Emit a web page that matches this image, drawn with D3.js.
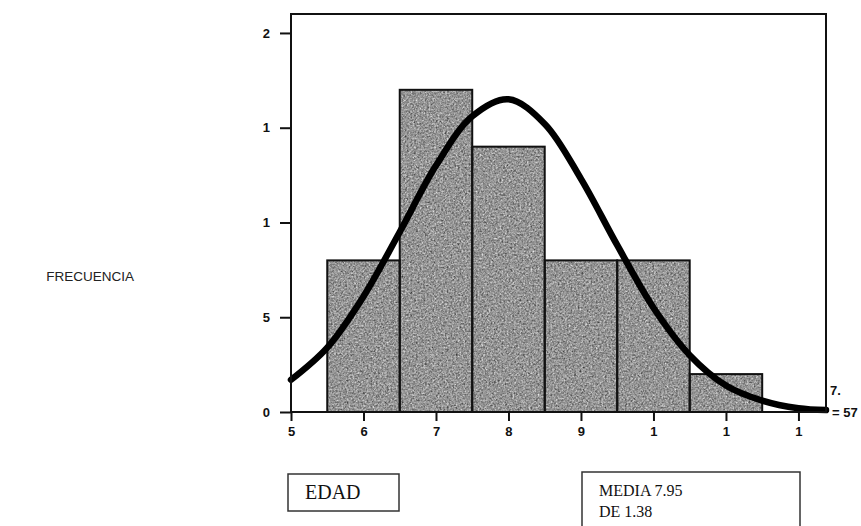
<!DOCTYPE html>
<html>
<head>
<meta charset="utf-8">
<script src="https://cdn.jsdelivr.net/npm/d3@7"></script>
<style>
  body { margin: 0; background: #fff; }
  svg { display: block; }
</style>
</head>
<body>
<svg id="chart" width="861" height="526"></svg>
<script>
// Histogram of EDAD with fitted normal curve
const binCenters = [6, 7, 8, 9, 10, 11];
const counts = [8, 17, 14, 8, 8, 2];

const yTicks = [0, 5, 10, 15, 20];
const yTickLabels = ['0', '5', '1', '1', '2'];
const xTicks = [5, 6, 7, 8, 9, 10, 11, 12];
const xTickLabels = ['5', '6', '7', '8', '9', '1', '1', '1'];

// normal curve
const curveX = [5, 5.5, 6, 6.5, 7, 7.5, 8, 8.5, 9, 9.5, 10, 10.5, 11, 11.5, 12, 12.38];
const curveY = [1.7, 3.4, 6.1, 9.5, 13.0, 15.6, 16.5, 15.2, 12.3, 8.8, 5.5, 3.0, 1.4, 0.6, 0.2, 0.1];

const statsLines = ['MEDIA 7.95', 'DE 1.38'];
const sideLabels = ['7.', '= 57'];

const svg = d3.select('#chart');

const x = d3.scaleLinear().domain([5, 12.38]).range([291, 826]);
const y = d3.scaleLinear().domain([0, 21]).range([412, 14]);

// grainy gray fill like the scanned original
const defs = svg.append('defs');
const grain = defs.append('filter').attr('id', 'grain')
    .attr('x', 0).attr('y', 0).attr('width', 1).attr('height', 1)
    .attr('color-interpolation-filters', 'sRGB');
grain.append('feTurbulence').attr('type', 'fractalNoise')
    .attr('baseFrequency', 0.55).attr('numOctaves', 3).attr('seed', 7).attr('result', 'n');
grain.append('feColorMatrix').attr('in', 'n').attr('type', 'matrix')
    .attr('values', '0.42 0.42 0.42 0 -0.05  0.42 0.42 0.42 0 -0.05  0.42 0.42 0.42 0 -0.05  0 0 0 0 1')
    .attr('result', 'g');
grain.append('feComposite').attr('in', 'g').attr('in2', 'SourceGraphic').attr('operator', 'in');

// bars
const bars = svg.append('g');
bars.selectAll('rect.fill')
    .data(binCenters)
    .join('rect')
    .attr('class', 'fill')
    .attr('x', (d) => x(d - 0.5))
    .attr('y', (d, i) => y(counts[i]))
    .attr('width', (d) => x(d + 0.5) - x(d - 0.5))
    .attr('height', (d, i) => y(0) - y(counts[i]))
    .attr('fill', '#969696')
    .attr('filter', 'url(#grain)');

bars.selectAll('rect.edge')
    .data(binCenters)
    .join('rect')
    .attr('class', 'edge')
    .attr('x', (d) => x(d - 0.5))
    .attr('y', (d, i) => y(counts[i]))
    .attr('width', (d) => x(d + 0.5) - x(d - 0.5))
    .attr('height', (d, i) => y(0) - y(counts[i]))
    .attr('fill', 'none')
    .attr('stroke', '#111')
    .attr('stroke-width', 2);

// normal curve
const line = d3.line()
    .x((d, i) => x(d))
    .y((d, i) => y(curveY[i]))
    .curve(d3.curveCatmullRom);

svg.append('path')
    .datum(curveX)
    .attr('d', line)
    .attr('fill', 'none')
    .attr('stroke', '#000')
    .attr('stroke-width', 6.5)
    .attr('stroke-linecap', 'round');

// frame
svg.append('rect')
    .attr('x', x(5)).attr('y', y(21))
    .attr('width', x(12.38) - x(5)).attr('height', y(0) - y(21))
    .attr('fill', 'none').attr('stroke', '#111').attr('stroke-width', 2);

// axes
const yAxis = d3.axisLeft(y)
    .tickValues(yTicks)
    .tickSize(11)
    .tickPadding(10)
    .tickFormat((d, i) => yTickLabels[i]);

const xAxis = d3.axisBottom(x)
    .tickValues(xTicks)
    .tickSize(9)
    .tickPadding(6)
    .tickFormat((d, i) => xTickLabels[i]);

const axisStyle = (g) => {
    g.select('.domain').remove();
    g.selectAll('line').attr('stroke', '#111').attr('stroke-width', 2);
    g.selectAll('text')
        .attr('fill', '#111')
        .style('font-family', 'Arial, "Liberation Sans", sans-serif')
        .style('font-size', '13px')
        .style('font-weight', 'bold');
};

svg.append('g').attr('transform', `translate(${x(5)},0)`).call(yAxis).call(axisStyle);
svg.append('g').attr('transform', `translate(0,${y(0)})`).call(xAxis).call(axisStyle);

// side labels (clipped in the original)
svg.selectAll('text.side')
    .data(sideLabels)
    .join('text')
    .attr('class', 'side')
    .attr('x', (d, i) => i === 0 ? 830 : 832)
    .attr('y', (d, i) => i === 0 ? 395 : 417)
    .attr('fill', '#111')
    .style('font-family', 'Arial, "Liberation Sans", sans-serif')
    .style('font-size', '13px')
    .style('font-weight', 'bold')
    .text((d) => d);

// y title
svg.append('text')
    .attr('x', 134).attr('y', 281)
    .attr('text-anchor', 'end')
    .attr('fill', '#222')
    .style('font-family', 'Arial, "Liberation Sans", sans-serif')
    .style('font-size', '13.5px')
    .text('FRECUENCIA');

// EDAD box
svg.append('rect')
    .attr('x', 288).attr('y', 474).attr('width', 111).attr('height', 37)
    .attr('fill', 'none').attr('stroke', '#333').attr('stroke-width', 1.5);
svg.append('text')
    .attr('x', 305).attr('y', 499)
    .attr('fill', '#111')
    .style('font-family', '"Liberation Serif", "Times New Roman", serif')
    .style('font-size', '20px')
    .text('EDAD');

// stats box
svg.append('rect')
    .attr('x', 582).attr('y', 472).attr('width', 218).attr('height', 70)
    .attr('fill', 'none').attr('stroke', '#333').attr('stroke-width', 1.5);
svg.selectAll('text.stat')
    .data(statsLines)
    .join('text')
    .attr('class', 'stat')
    .attr('x', 599)
    .attr('y', (d, i) => 496 + i * 21)
    .attr('fill', '#111')
    .style('font-family', '"Liberation Serif", "Times New Roman", serif')
    .style('font-size', '16px')
    .text((d) => d);
</script>
</body>
</html>
